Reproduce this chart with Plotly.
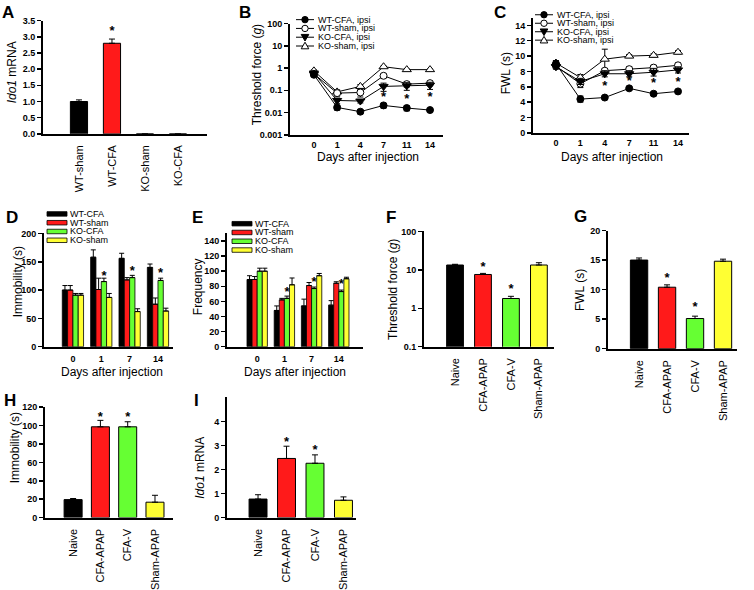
import plotly.graph_objects as go

W, H = 754, 590
FONT = "Liberation Sans, Arial, Helvetica, sans-serif"
BLACK, RED, GREEN, YELLOW = "#000000", "#ff1a1a", "#66ff33", "#ffff33"

# ---------------- data ----------------
# A
a_groups = ["WT-sham", "WT-CFA", "KO-sham", "KO-CFA"]
a_values = [1.0, 2.8, 0.0, 0.0]
a_errors = [0.05, 0.13, 0.0, 0.0]
a_colors = [BLACK, RED, BLACK, BLACK]
a_star_x = ["WT-CFA"]
a_star_y = [3.15]

# B / C
days_bc = ["0", "1", "4", "7", "11", "14"]
line_names = ["WT-CFA, ipsi", "WT-sham, ipsi", "KO-CFA, ipsi", "KO-sham, ipsi"]

b_wt_cfa = [0.50, 0.017, 0.011, 0.021, 0.016, 0.013]
b_wt_sham = [0.55, 0.075, 0.080, 0.45, 0.19, 0.21]
b_ko_cfa = [0.60, 0.035, 0.033, 0.15, 0.16, 0.17]
b_ko_sham = [0.75, 0.085, 0.15, 1.15, 0.85, 0.85]
b_wt_cfa_err = [0.08, 0.004, 0.002, 0.005, 0.004, 0.002]
b_wt_sham_err = [0.08, 0.02, 0.03, 0.08, 0.05, 0.05]
b_ko_cfa_err = [0.08, 0.01, 0.006, 0.06, 0.06, 0.06]
b_ko_sham_err = [0.08, 0.02, 0.03, 0.08, 0.06, 0.06]
b_star_x = ["7", "11", "14"]
b_star_y = [0.045, 0.036, 0.045]

c_wt_cfa = [9.0, 4.4, 4.6, 5.8, 5.1, 5.4]
c_wt_sham = [8.7, 6.4, 8.1, 8.3, 8.5, 8.8]
c_ko_cfa = [8.6, 6.7, 7.7, 7.7, 7.9, 8.2]
c_ko_sham = [9.1, 7.2, 9.6, 10.0, 10.1, 10.5]
c_wt_cfa_err = [0.4, 0.4, 0.2, 0.2, 0.2, 0.2]
c_wt_sham_err = [0.3, 0.5, 0.2, 0.3, 0.3, 0.3]
c_ko_cfa_err = [0.3, 0.4, 0.4, 0.4, 0.5, 0.4]
c_ko_sham_err = [0.3, 0.4, 1.3, 0.2, 0.2, 0.2]
c_star_x = ["4", "7", "11", "14"]
c_star_y = [6.0, 6.6, 6.4, 6.5]

# D / E
days_de = ["0", "1", "7", "14"]
de_names = ["WT-CFA", "WT-sham", "KO-CFA", "KO-sham"]
de_colors = [BLACK, RED, GREEN, YELLOW]

d_wt_cfa = [100, 158, 156, 140]
d_wt_sham = [100, 101, 118, 75]
d_ko_cfa = [91, 115, 122, 117]
d_ko_sham = [91, 87, 62, 63]
d_wt_cfa_err = [8, 13, 9, 6]
d_wt_sham_err = [8, 20, 4, 11]
d_ko_cfa_err = [3, 6, 4, 4]
d_ko_sham_err = [3, 7, 5, 5]
d_star_day = [1, 2, 3]
d_star_y = [123, 133, 129]

e_wt_cfa = [89, 48, 54, 55]
e_wt_sham = [89, 62, 81, 84]
e_ko_cfa = [100, 64, 77, 73]
e_ko_sham = [100, 82, 94, 90]
e_wt_cfa_err = [5, 6, 9, 6]
e_wt_sham_err = [4, 2, 4, 2]
e_ko_cfa_err = [4, 3, 2, 2]
e_ko_sham_err = [4, 9, 3, 2]
e_star_day = [1, 2, 3]
e_star_y = [71, 85, 82]

# F - I
treat_groups = ["Naive", "CFA-APAP", "CFA-V", "Sham-APAP"]
treat_colors = [BLACK, RED, GREEN, YELLOW]
star_groups = ["CFA-APAP", "CFA-V"]

f_values = [13.4, 7.6, 1.8, 13.4]
f_errors = [0.6, 0.5, 0.25, 2.0]
f_star_y = [11.5, 3.0]

g_values = [15.0, 10.4, 5.1, 14.8]
g_errors = [0.35, 0.4, 0.4, 0.35]
g_star_y = [11.9, 7.0]

h_values = [19.5, 98.7, 98.7, 16.7]
h_errors = [1.2, 7.0, 5.5, 7.5]
h_star_y = [109, 109]

i_values = [0.77, 2.46, 2.26, 0.72]
i_errors = [0.18, 0.51, 0.35, 0.14]
i_star_y = [3.1, 2.77]

# ---------------- helpers ----------------
fig = go.Figure()
layout = dict(
    width=W, height=H, margin=dict(l=0, r=0, t=0, b=0),
    paper_bgcolor="white", plot_bgcolor="white",
    showlegend=False, barmode="group", bargap=0.25, bargroupgap=0,
    font=dict(family=FONT, color="black"),
)
annotations = []
shapes = []


def px(x):
    return x / W


def py(y):
    return 1 - y / H


def add_axes(n, box, yrange, xrange, ytype="linear", ytickvals=None, yticktext=None,
             ytickformat=None, xcat=None, xrot=False, xticktext=None):
    l, r, t, b = box
    xa = dict(domain=[px(l), px(r)], anchor="y%d" % n, range=xrange,
              showline=True, linecolor="black", linewidth=2, showgrid=False,
              zeroline=False, fixedrange=True)
    if xrot:
        xa.update(type="category", categoryorder="array", categoryarray=xcat,
                  tickangle=-90, tickfont=dict(size=11, family=FONT),
                  ticks="outside", ticklen=5, tickcolor="rgba(0,0,0,0)")
    elif xticktext is not None:
        xa.update(type="linear", tickvals=list(range(len(xticktext))), ticktext=xticktext,
                  tickfont=dict(size=9, family=FONT, weight="bold"),
                  ticks="outside", ticklen=3, tickcolor="rgba(0,0,0,0)")
    else:
        xa.update(type="category", categoryorder="array", categoryarray=xcat,
                  tickfont=dict(size=9, family=FONT, weight="bold"), ticks="")
    ya = dict(domain=[py(b), py(t)], anchor="x%d" % n, range=yrange, type=ytype,
              showline=True, linecolor="black", linewidth=2, showgrid=False,
              zeroline=False, ticks="outside", ticklen=4, tickwidth=1.5,
              tickcolor="black", tickfont=dict(size=9, family=FONT, weight="bold"),
              fixedrange=True)
    if ytickvals is not None:
        ya.update(tickvals=ytickvals)
    if yticktext is not None:
        ya.update(ticktext=yticktext)
    if ytickformat is not None:
        ya.update(tickformat=ytickformat)
    sfx = "" if n == 1 else str(n)
    layout["xaxis" + sfx] = xa
    layout["yaxis" + sfx] = ya


def text(x, y, s, size=12, bold=False, angle=0, xanchor="center", yanchor="middle"):
    annotations.append(dict(
        x=px(x), y=py(y), xref="paper", yref="paper", text=s, showarrow=False,
        textangle=angle, xanchor=xanchor, yanchor=yanchor,
        font=dict(size=size, family=FONT, color="black", weight="bold" if bold else "normal")))


def stars(n, xs, ys):
    fig.add_trace(go.Scatter(
        x=xs, y=ys, mode="text", text=["*"] * len(xs), textposition="middle center",
        textfont=dict(size=13, family=FONT, color="black", weight="bold"), hoverinfo="skip",
        xaxis="x%d" % n, yaxis="y%d" % n))


def single_bars(n, cats, vals, errs, colors, width):
    fig.add_trace(go.Bar(
        x=cats, y=vals, width=width, marker=dict(color=colors, line=dict(color="black", width=1)),
        error_y=dict(type="data", symmetric=False, array=errs, arrayminus=[0] * len(errs),
                     color="black", thickness=1, width=3),
        xaxis="x%d" % n, yaxis="y%d" % n))


# ---------------- Panel A ----------------
add_axes(1, (43, 207, 16, 132), [0, 3.5], [-1.09, 3.88], xcat=a_groups, xrot=True,
         ytickvals=[0, 0.5, 1, 1.5, 2, 2.5, 3, 3.5], ytickformat=".1f")
single_bars(1, a_groups, a_values, a_errors, a_colors, 0.52)
stars(1, a_star_x, a_star_y)

# ---------------- Panels B, C ----------------
markers = [
    dict(symbol="circle", size=7, color="black", line=dict(color="black", width=1)),
    dict(symbol="circle", size=7, color="white", line=dict(color="black", width=1)),
    dict(symbol="triangle-down", size=8, color="black", line=dict(color="black", width=1)),
    dict(symbol="triangle-up", size=8, color="white", line=dict(color="black", width=1)),
]


def line_panel(n, series, errs):
    for k in [3, 1, 2, 0]:
        fig.add_trace(go.Scatter(
            x=days_bc, y=series[k], mode="lines+markers", name=line_names[k],
            line=dict(color="black", width=1), marker=markers[k],
            error_y=dict(type="data", array=errs[k], color="black", thickness=1, width=3),
            xaxis="x%d" % n, yaxis="y%d" % n))


add_axes(2, (290, 443, 19, 133), [-3, 2], [-1.03, 5.56], ytype="log", xcat=days_bc,
         ytickvals=[0.001, 0.01, 0.1, 1, 10, 100],
         yticktext=["0.001", "0.01", "0.1", "1", "10", "100"])
line_panel(2, [b_wt_cfa, b_wt_sham, b_ko_cfa, b_ko_sham],
           [b_wt_cfa_err, b_wt_sham_err, b_ko_cfa_err, b_ko_sham_err])
stars(2, b_star_x, b_star_y)

add_axes(3, (533, 689, 13, 131), [0, 15], [-0.94, 5.45], xcat=days_bc,
         ytickvals=[0, 2, 4, 6, 8, 10, 12, 14])
line_panel(3, [c_wt_cfa, c_wt_sham, c_ko_cfa, c_ko_sham],
           [c_wt_cfa_err, c_wt_sham_err, c_ko_cfa_err, c_ko_sham_err])
stars(3, c_star_x, c_star_y)

# ---------------- Panels D, E ----------------
BARGAP = layout["bargap"]


def group_panel(n, series, errs, star_day, star_y):
    xs = list(range(len(days_de)))
    for k in range(4):
        fig.add_trace(go.Bar(
            x=xs, y=series[k], name=de_names[k],
            marker=dict(color=de_colors[k], line=dict(color="black", width=0.8)),
            error_y=dict(type="data", symmetric=False, array=errs[k],
                         arrayminus=[0] * len(errs[k]), color="black", thickness=1, width=2.5),
            xaxis="x%d" % n, yaxis="y%d" % n))
    bw = (1 - BARGAP) / 4
    off = (2 - 1.5) * bw  # KO-CFA is the 3rd bar in each group
    stars(n, [d + off for d in star_day], star_y)


add_axes(4, (44, 173, 234, 350), [0, 200], [-1.02, 3.53], xticktext=days_de,
         ytickvals=[0, 50, 100, 150, 200])
group_panel(4, [d_wt_cfa, d_wt_sham, d_ko_cfa, d_ko_sham],
            [d_wt_cfa_err, d_wt_sham_err, d_ko_cfa_err, d_ko_sham_err], d_star_day, d_star_y)

add_axes(5, (227, 363, 234, 350), [0, 150], [-1.11, 3.89], xticktext=days_de,
         ytickvals=[0, 20, 40, 60, 80, 100, 120, 140])
group_panel(5, [e_wt_cfa, e_wt_sham, e_ko_cfa, e_ko_sham],
            [e_wt_cfa_err, e_wt_sham_err, e_ko_cfa_err, e_ko_sham_err], e_star_day, e_star_y)

# ---------------- Panels F - I ----------------
add_axes(6, (424, 554, 232, 350), [-1, 2], [-1.11, 3.54], ytype="log", xcat=treat_groups,
         xrot=True, ytickvals=[0.1, 1, 10, 100], yticktext=["0.1", "1", "10", "100"])
single_bars(6, treat_groups, f_values, f_errors, treat_colors, 0.6)
stars(6, star_groups, f_star_y)

add_axes(7, (608, 737, 231, 352), [0, 20], [-1.11, 3.5], xcat=treat_groups, xrot=True,
         ytickvals=[0, 5, 10, 15, 20])
single_bars(7, treat_groups, g_values, g_errors, treat_colors, 0.62)
stars(7, star_groups, g_star_y)

add_axes(8, (45, 173, 412, 525), [0, 120], [-1.03, 3.66], xcat=treat_groups, xrot=True,
         ytickvals=[0, 20, 40, 60, 80, 100, 120])
single_bars(8, treat_groups, h_values, h_errors, treat_colors, 0.66)
stars(8, star_groups, h_star_y)

add_axes(9, (227, 356, 402, 525), [0, 5], [-1.09, 3.44], xcat=treat_groups, xrot=True,
         ytickvals=[0, 1, 2, 3, 4])
single_bars(9, treat_groups, i_values, i_errors, treat_colors, 0.63)
stars(9, star_groups, i_star_y)

# ---------------- texts ----------------
for lbl, x, y in [("A", 8, 8), ("B", 245, 8), ("C", 500, 8), ("D", 12, 218), ("E", 197, 218),
                  ("F", 391, 218), ("G", 580, 217), ("H", 10, 405), ("I", 196, 405)]:
    text(x, y, lbl, size=17, bold=True)

text(12, 69, "<i>Ido1</i> mRNA", 12, angle=-90)
text(257, 72, "Threshold force (<i>g</i>)", 12, angle=-90)
text(506, 70, "FWL (s)", 12, angle=-90)
text(18, 284, "Immobility (s)", 12, angle=-90)
text(198, 288, "Frequency", 12, angle=-90)
text(393, 292, "Threshold force (<i>g</i>)", 12, angle=-90)
text(580, 292, "FWL (s)", 12, angle=-90)
text(15, 454, "Immobility (s)", 12, angle=-90)
text(200, 474, "<i>Ido1</i> mRNA", 12, angle=-90)

text(368, 156, "Days after injection", 12)
text(612, 156, "Days after injection", 12)
text(112, 376, "Days after injection", 12)
text(295, 376, "Days after injection", 12)


# ---------------- manual legends ----------------
def legend_lines(x0, rows, names):
    for k, yy in enumerate(rows):
        shapes.append(dict(type="line", xref="paper", yref="paper", x0=px(x0), x1=px(x0 + 18),
                           y0=py(yy), y1=py(yy), line=dict(color="black", width=1)))
        cx, cy = px(x0 + 9), py(yy)
        fill = "black" if k in (0, 2) else "white"
        if k in (0, 1):
            shapes.append(dict(type="circle", xref="paper", yref="paper", xsizemode="pixel",
                               ysizemode="pixel", xanchor=cx, yanchor=cy, x0=-3.2, x1=3.2,
                               y0=-3.2, y1=3.2, fillcolor=fill, line=dict(color="black", width=1)))
        elif k == 2:
            shapes.append(dict(type="path", xref="paper", yref="paper", xsizemode="pixel",
                               ysizemode="pixel", xanchor=cx, yanchor=cy,
                               path="M -3.8 2.8 L 3.8 2.8 L 0 -3.8 Z", fillcolor=fill,
                               line=dict(color="black", width=1)))
        else:
            shapes.append(dict(type="path", xref="paper", yref="paper", xsizemode="pixel",
                               ysizemode="pixel", xanchor=cx, yanchor=cy,
                               path="M -3.8 -2.8 L 3.8 -2.8 L 0 3.8 Z", fillcolor=fill,
                               line=dict(color="black", width=1)))
        text(x0 + 20, yy, names[k], 9, xanchor="left")


def legend_boxes(x0, rows, names, colors):
    for k, yy in enumerate(rows):
        shapes.append(dict(type="rect", xref="paper", yref="paper", x0=px(x0), x1=px(x0 + 20),
                           y0=py(yy + 2.3), y1=py(yy - 2.3), fillcolor=colors[k],
                           line=dict(color="black", width=0.8)))
        text(x0 + 21, yy, names[k], 9, xanchor="left")


legend_lines(296, [15, 24, 33, 42], line_names)
legend_lines(535, [10, 18.7, 27.4, 36], line_names)
legend_boxes(47, [214, 223, 232, 241], de_names, de_colors)
legend_boxes(232, [224, 233, 242, 251], de_names, de_colors)

layout["annotations"] = annotations
layout["shapes"] = shapes
fig.update_layout(**layout)
fig.write_html("out.html", config={"displayModeBar": False, "staticPlot": True},
               post_script="document.body.style.margin='0px';document.body.style.padding='0px';")
